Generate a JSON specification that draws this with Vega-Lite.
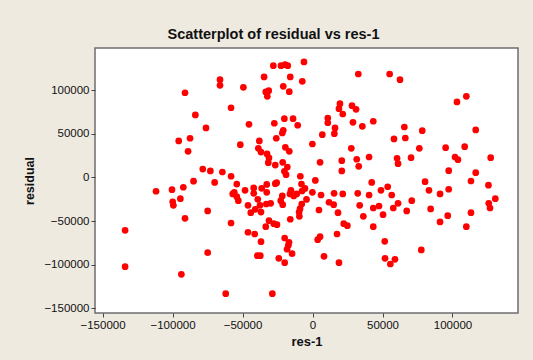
{
  "$schema": "https://vega.github.io/schema/vega-lite/v6.json",
  "width": 423,
  "height": 265,
  "autosize": "none",
  "padding": {"left": 95, "top": 48, "right": 15, "bottom": 47},
  "background": "#EEEAE0",
  "title": {
    "text": "Scatterplot of residual vs res-1",
    "font": "Liberation Sans",
    "fontSize": 14.5,
    "fontWeight": "bold",
    "color": "#111111",
    "anchor": "middle",
    "dx": -33,
    "offset": 6
  },
  "config": {
    "view": {"fill": "white", "stroke": "#6e6e6e", "strokeWidth": 1.5},
    "axis": {
      "labelFont": "Liberation Sans",
      "labelFontSize": 11.5,
      "labelColor": "#111111",
      "titleFont": "Liberation Sans",
      "titleFontWeight": "bold",
      "titleColor": "#111111",
      "tickColor": "#444444",
      "tickSize": 4,
      "domain": false,
      "grid": false,
      "labelPadding": 2
    }
  },
  "data": {
    "values": [
      {"res1": -6100, "residual": 132500},
      {"res1": -28000, "residual": 128200},
      {"res1": -22500, "residual": 128200},
      {"res1": -19600, "residual": 129400},
      {"res1": -17700, "residual": 128200},
      {"res1": -34600, "residual": 115300},
      {"res1": -15900, "residual": 115300},
      {"res1": -7300, "residual": 110300},
      {"res1": -66100, "residual": 112200},
      {"res1": -66100, "residual": 105700},
      {"res1": -49400, "residual": 103400},
      {"res1": -20900, "residual": 104600},
      {"res1": -91100, "residual": 97200},
      {"res1": -33400, "residual": 98100},
      {"res1": -31300, "residual": 99500},
      {"res1": -32300, "residual": 93100},
      {"res1": -16600, "residual": 98400},
      {"res1": -58200, "residual": 80000},
      {"res1": -83700, "residual": 71700},
      {"res1": -20100, "residual": 67400},
      {"res1": -13900, "residual": 67400},
      {"res1": -45400, "residual": 61000},
      {"res1": -27300, "residual": 62200},
      {"res1": -10600, "residual": 59900},
      {"res1": -76100, "residual": 56800},
      {"res1": -20900, "residual": 54100},
      {"res1": -21600, "residual": 51000},
      {"res1": -87500, "residual": 45000},
      {"res1": -95600, "residual": 41900},
      {"res1": -38000, "residual": 41900},
      {"res1": -25900, "residual": 45000},
      {"res1": -51600, "residual": 37600},
      {"res1": -88900, "residual": 30000},
      {"res1": -38700, "residual": 33500},
      {"res1": -36800, "residual": 29200},
      {"res1": -19400, "residual": 34600},
      {"res1": -16600, "residual": 30000},
      {"res1": -32500, "residual": 27000},
      {"res1": -31100, "residual": 22400},
      {"res1": -31600, "residual": 17000},
      {"res1": -26600, "residual": 14300},
      {"res1": -21300, "residual": 17400},
      {"res1": -18000, "residual": 12000},
      {"res1": -78400, "residual": 9700},
      {"res1": -73000, "residual": 7500},
      {"res1": -64400, "residual": 6300},
      {"res1": -58200, "residual": 1400},
      {"res1": -20100, "residual": 7100},
      {"res1": -18900, "residual": 3200},
      {"res1": -8700, "residual": 1400},
      {"res1": -85000, "residual": -4200},
      {"res1": -69900, "residual": -5700},
      {"res1": -54100, "residual": -7500},
      {"res1": -32700, "residual": -8000},
      {"res1": -26600, "residual": -7100},
      {"res1": -25600, "residual": -6000},
      {"res1": -7900, "residual": -7500},
      {"res1": 32700, "residual": 118700},
      {"res1": 55100, "residual": 118700},
      {"res1": 62500, "residual": 112200},
      {"res1": 103200, "residual": 86600},
      {"res1": 109900, "residual": 93100},
      {"res1": 19600, "residual": 84600},
      {"res1": 18900, "residual": 78900},
      {"res1": 28200, "residual": 82300},
      {"res1": 31100, "residual": 78200},
      {"res1": 21600, "residual": 72800},
      {"res1": 10900, "residual": 68200},
      {"res1": 10900, "residual": 62800},
      {"res1": 28900, "residual": 63300},
      {"res1": 35600, "residual": 58700},
      {"res1": 43400, "residual": 64500},
      {"res1": 65600, "residual": 57900},
      {"res1": 78400, "residual": 53700},
      {"res1": 116600, "residual": 54500},
      {"res1": 16100, "residual": 56800},
      {"res1": 15600, "residual": 50200},
      {"res1": 7000, "residual": 49100},
      {"res1": 58200, "residual": 44200},
      {"res1": 66300, "residual": 45300},
      {"res1": -100, "residual": 38400},
      {"res1": 27700, "residual": 33500},
      {"res1": 76300, "residual": 33500},
      {"res1": 95100, "residual": 34200},
      {"res1": 108700, "residual": 35300},
      {"res1": 101800, "residual": 23500},
      {"res1": 103900, "residual": 20400},
      {"res1": 127300, "residual": 22700},
      {"res1": 40400, "residual": 23500},
      {"res1": 31600, "residual": 20900},
      {"res1": 33000, "residual": 12800},
      {"res1": 20900, "residual": 19300},
      {"res1": 60400, "residual": 22000},
      {"res1": 61100, "residual": 15800},
      {"res1": 70400, "residual": 22700},
      {"res1": 5400, "residual": 17400},
      {"res1": 20900, "residual": 7500},
      {"res1": 97300, "residual": 7800},
      {"res1": 116600, "residual": 5500},
      {"res1": 2000, "residual": -3400},
      {"res1": 42300, "residual": -5700},
      {"res1": 80400, "residual": -4800},
      {"res1": 113200, "residual": -4000},
      {"res1": 125700, "residual": -8800},
      {"res1": 53700, "residual": -10600},
      {"res1": 48900, "residual": -14700},
      {"res1": 56600, "residual": -20100},
      {"res1": 83200, "residual": -14700},
      {"res1": 91100, "residual": -18900},
      {"res1": 97300, "residual": -13500},
      {"res1": 130600, "residual": -24300},
      {"res1": 125900, "residual": -29600},
      {"res1": 126800, "residual": -35000},
      {"res1": -5400, "residual": -12600},
      {"res1": -100, "residual": -17000},
      {"res1": -4300, "residual": -25200},
      {"res1": 6100, "residual": -20100},
      {"res1": 15400, "residual": -18100},
      {"res1": 21600, "residual": -18900},
      {"res1": 32300, "residual": -18100},
      {"res1": 40400, "residual": -20100},
      {"res1": 11800, "residual": -28400},
      {"res1": 15100, "residual": -31200},
      {"res1": 33700, "residual": -31900},
      {"res1": 43400, "residual": -35000},
      {"res1": 47500, "residual": -32700},
      {"res1": 61100, "residual": -29600},
      {"res1": 57700, "residual": -35000},
      {"res1": 70900, "residual": -26600},
      {"res1": 67300, "residual": -38400},
      {"res1": 4600, "residual": -37300},
      {"res1": 18200, "residual": -40400},
      {"res1": 50400, "residual": -42700},
      {"res1": 36300, "residual": -44500},
      {"res1": 84400, "residual": -36100},
      {"res1": 113200, "residual": -40400},
      {"res1": 96600, "residual": -43800},
      {"res1": 91100, "residual": -51000},
      {"res1": 109900, "residual": -56400},
      {"res1": 22300, "residual": -53000},
      {"res1": 24900, "residual": -55300},
      {"res1": 43400, "residual": -56400},
      {"res1": 17500, "residual": -64800},
      {"res1": 5400, "residual": -67900},
      {"res1": 3700, "residual": -71300},
      {"res1": 51600, "residual": -73200},
      {"res1": 77700, "residual": -83100},
      {"res1": 8200, "residual": -90400},
      {"res1": 18900, "residual": -97700},
      {"res1": 51800, "residual": -92700},
      {"res1": 58900, "residual": -93800},
      {"res1": 55600, "residual": -99200},
      {"res1": -111800, "residual": -15800},
      {"res1": -100400, "residual": -14000},
      {"res1": -92300, "residual": -11200},
      {"res1": -99900, "residual": -27800},
      {"res1": -99400, "residual": -31900},
      {"res1": -94400, "residual": -24300},
      {"res1": -91100, "residual": -46800},
      {"res1": -74900, "residual": -38400},
      {"res1": -74900, "residual": -86200},
      {"res1": -133900, "residual": -60600},
      {"res1": -133900, "residual": -102300},
      {"res1": -93700, "residual": -111000},
      {"res1": -62000, "residual": -133300},
      {"res1": -28700, "residual": -133300},
      {"res1": -58200, "residual": -52200},
      {"res1": -55900, "residual": -17000},
      {"res1": -57000, "residual": -18900},
      {"res1": -54100, "residual": -22000},
      {"res1": -53000, "residual": -26600},
      {"res1": -48200, "residual": -14700},
      {"res1": -42000, "residual": -12000},
      {"res1": -42000, "residual": -18100},
      {"res1": -36300, "residual": -12400},
      {"res1": -32700, "residual": -17000},
      {"res1": -39100, "residual": -25000},
      {"res1": -46100, "residual": -31900},
      {"res1": -44100, "residual": -40400},
      {"res1": -40900, "residual": -36500},
      {"res1": -37500, "residual": -31900},
      {"res1": -36800, "residual": -39600},
      {"res1": -33000, "residual": -30400},
      {"res1": -29900, "residual": -29600},
      {"res1": -21600, "residual": -21200},
      {"res1": -22700, "residual": -26600},
      {"res1": -21300, "residual": -31200},
      {"res1": -15400, "residual": -14700},
      {"res1": -16100, "residual": -18900},
      {"res1": -13400, "residual": -21200},
      {"res1": -11300, "residual": -18900},
      {"res1": -7500, "residual": -15500},
      {"res1": -7700, "residual": -30400},
      {"res1": -8900, "residual": -35800},
      {"res1": -9600, "residual": -39600},
      {"res1": -9400, "residual": -44500},
      {"res1": -15900, "residual": -47900},
      {"res1": -31100, "residual": -49500},
      {"res1": -33400, "residual": -56400},
      {"res1": -27700, "residual": -53000},
      {"res1": -25400, "residual": -54100},
      {"res1": -46100, "residual": -62800},
      {"res1": -41300, "residual": -64800},
      {"res1": -36800, "residual": -73600},
      {"res1": -19900, "residual": -69400},
      {"res1": -16800, "residual": -74300},
      {"res1": -17300, "residual": -77800},
      {"res1": -18200, "residual": -82300},
      {"res1": -14600, "residual": -87400},
      {"res1": -39400, "residual": -89700},
      {"res1": -37300, "residual": -89700},
      {"res1": -24100, "residual": -92700},
      {"res1": -19900, "residual": -97700}
    ]
  },
  "mark": {"type": "circle", "size": 45, "color": "#FF0000", "opacity": 1},
  "encoding": {
    "x": {
      "field": "res1",
      "type": "quantitative",
      "scale": {"domain": [-155400, 146800], "nice": false, "zero": false},
      "axis": {
        "title": "res-1",
        "titleFontSize": 13,
        "values": [-150000, -100000, -50000, 0, 50000, 100000],
        "format": "d",
        "titleX": 211.5,
        "titleY": 28,
        "titleBaseline": "middle",
        "titleAnchor": null
      }
    },
    "y": {
      "field": "residual",
      "type": "quantitative",
      "scale": {"domain": [-155400, 148500], "nice": false, "zero": false},
      "axis": {
        "title": "residual",
        "titleFontSize": 12.5,
        "values": [-150000, -100000, -50000, 0, 50000, 100000],
        "format": "d",
        "titleX": -66,
        "titleY": 132.5,
        "titleAngle": -90,
        "titleAlign": "center",
        "titleBaseline": "middle"
      }
    }
  }
}
